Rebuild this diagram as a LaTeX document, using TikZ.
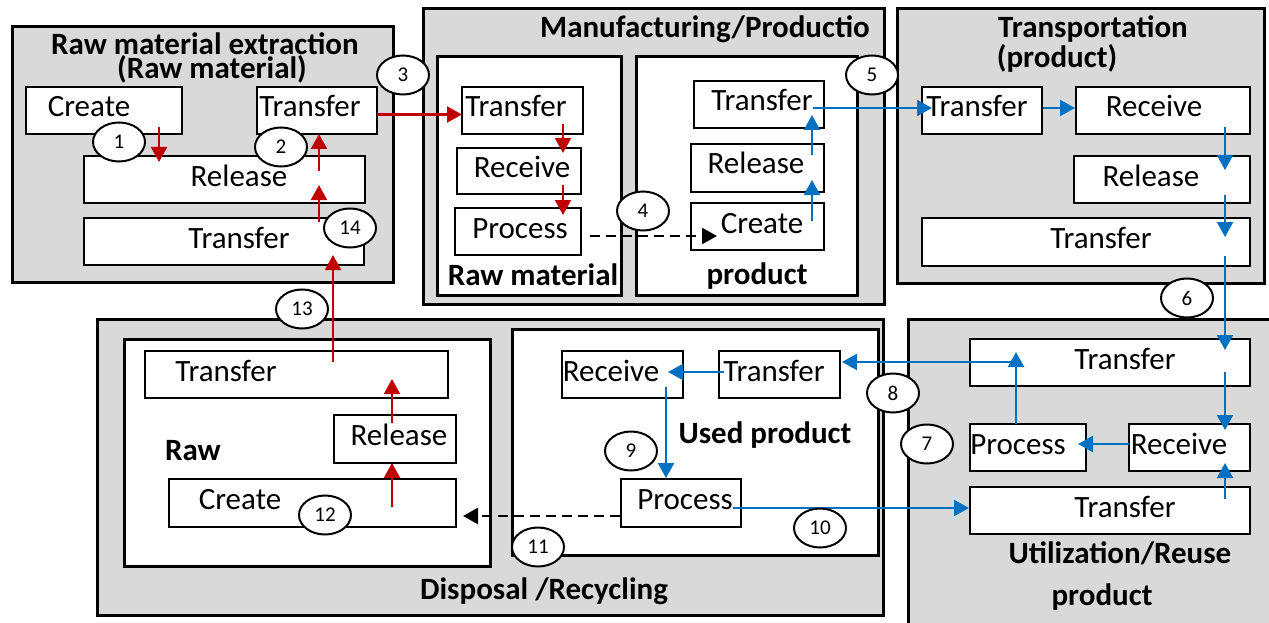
\documentclass[tikz,border=0pt]{standalone}
\usepackage{fontspec}
\setmainfont{Carlito}
\usetikzlibrary{arrows.meta,calc,shapes.geometric}
\definecolor{panelgray}{RGB}{217,217,217}
\definecolor{flowred}{RGB}{192,0,0}
\definecolor{flowblue}{RGB}{0,112,192}
% panel / frame: style, name, x1, y1, x2, y2 (screen pixels, y downwards)
\newcommand\mkpanel[6]{%
  \node[#1, minimum width={#5-#3}, minimum height={#6-#4}] (#2) at ({(#3+#5)/2},{(#4+#6)/2}) {};}
% activity box: name, x1, y1, x2, y2, text x, text
\newcommand\mkbox[7]{%
  \node[sbox, minimum width={#4-#2}, minimum height={#5-#3}] (#1) at ({(#2+#4)/2},{(#3+#5)/2}) {};
  \node[lbl] (#1-t) at (#6,#3+30) {#7};}
\begin{document}
\begin{tikzpicture}[x=1pt,y=-1pt,
  panel/.style={draw, line width=3pt, fill=panelgray, inner sep=0pt, outer sep=0pt},
  frame/.style={draw, line width=3pt, fill=white, inner sep=0pt, outer sep=0pt},
  sbox/.style={draw, line width=2.4pt, fill=white, inner sep=0pt, outer sep=0pt},
  lbl/.style={anchor=base, inner sep=0pt, font=\fontsize{31}{33}\selectfont},
  ttl/.style={anchor=base, inner sep=0pt, font=\fontsize{31}{33}\selectfont\bfseries},
  num/.style={ellipse, draw, line width=2pt, fill=white, minimum width=52pt,
    minimum height=39pt, inner sep=0pt, font=\fontsize{21}{23}\selectfont},
  redarr/.style={draw=flowred, line width=2.2pt, -{Triangle[length=15pt,width=16pt]}},
  bluearr/.style={draw=flowblue, line width=2.2pt, -{Triangle[length=15pt,width=16pt]}},
  dasharr/.style={draw=black, line width=2.4pt, dash pattern=on 10pt off 6pt,
    -{Triangle[length=15pt,width=16pt]}}]
\useasboundingbox (0,0) rectangle (1269,623);
\fill[white] (0,0) rectangle (1269,623);
\clip (0,0) rectangle (1269,623);

% stage panels
\mkpanel{panel}{P1}{12}{27}{393}{282}
\mkpanel{panel}{P2}{423}{9}{884}{304}
\mkpanel{panel}{P3}{897}{9}{1264}{283}
\mkpanel{panel}{P4}{908}{319}{1300}{660}
\mkpanel{panel}{P5}{97}{319}{883}{615}
% inner frames
\mkpanel{frame}{M1}{437}{57}{621}{295}
\mkpanel{frame}{M2}{636}{57}{857}{295}
\mkpanel{frame}{D1}{124}{339}{490}{566}
\mkpanel{frame}{D2}{512}{329}{878}{555}

% stage titles
\node[ttl] (t1a) at (205,55) {Raw material extraction};
\node[ttl] (t1b) at (212,79) {(Raw material)};
\node[ttl] (t2) at (705,38) {Manufacturing/Productio};
\node[ttl] (t2a) at (533,285) {Raw material};
\node[ttl] (t2b) at (757,284) {product};
\node[ttl] (t3a) at (1093,38) {Transportation};
\node[ttl] (t3b) at (1057,68) {(product)};
\node[ttl] (t4a) at (1120,563) {Utilization/Reuse};
\node[ttl] (t4b) at (1102,605) {product};
\node[ttl] (t5) at (544,599) {Disposal /Recycling};
\node[ttl] (t5a) at (193,460) {Raw};
\node[ttl] (t5b) at (765,443) {Used product};

% raw material extraction
\mkbox{aCreate}{26}{87}{182}{134}{89}{Create}
\mkbox{aTransfer}{257}{87}{377}{134}{310}{Transfer}
\mkbox{aRelease}{84}{156}{365}{203}{239}{Release}
\mkbox{aTransferB}{84}{218}{364}{265}{239}{Transfer}
% manufacturing
\mkbox{mTransfer}{462}{87}{583}{134}{516}{Transfer}
\mkbox{mReceive}{457}{148}{581}{194}{522}{Receive}
\mkbox{mProcess}{455}{208}{581}{255}{520}{Process}
\mkbox{pTransfer}{694}{81}{824}{128}{762}{Transfer}
\mkbox{pRelease}{691}{144}{824}{192}{756}{Release}
\mkbox{pCreate}{691}{203}{824}{250}{762}{Create}
% transportation
\mkbox{tTransfer}{922}{87}{1042}{134}{977}{Transfer}
\mkbox{tReceive}{1076}{87}{1250}{134}{1154}{Receive}
\mkbox{tRelease}{1074}{156}{1250}{203}{1151}{Release}
\mkbox{tTransferB}{922}{218}{1250}{266}{1101}{Transfer}
% utilization / reuse
\mkbox{uTransfer}{970}{339}{1250}{386}{1125}{Transfer}
\mkbox{uProcess}{970}{424}{1086}{471}{1018}{Process}
\mkbox{uReceive}{1129}{424}{1250}{471}{1179}{Receive}
\mkbox{uTransferB}{970}{487}{1250}{534}{1125}{Transfer}
% disposal / recycling
\mkbox{dTransfer}{145}{351}{448}{398}{226}{Transfer}
\mkbox{dRelease}{334}{415}{456}{463}{399}{Release}
\mkbox{dCreate}{169}{479}{456}{527}{240}{Create}
\mkbox{rReceive}{562}{351}{683}{398}{611}{Receive}
\mkbox{rTransfer}{719}{351}{840}{398}{774}{Transfer}
\mkbox{rProcess}{621}{479}{741}{527}{685}{Process}

% raw material flows
\draw[redarr] ($(aCreate.south east)+(-23,-7)$) -- ($(aRelease.north west)+(75,6)$);
\draw[redarr] ($(aRelease.north west)+(235,15)$) -- ($(aTransfer.south west)+(62,0)$);
\draw[redarr] ($(aTransferB.north west)+(235,4)$) -- ($(aRelease.south west)+(235,-18)$);
\draw[redarr] ($(dTransfer.north west)+(188,11)$) -- ($(aTransferB.south west)+(249,-10)$);
\draw[redarr] ($(aTransfer.east)+(0,4)$) -- ($(mTransfer.west)+(0,4)$);
\draw[redarr] ($(mTransfer.south west)+(101,-10)$) -- ($(mReceive.north west)+(106,5)$);
\draw[redarr] ($(mReceive.south west)+(106,-9)$) -- ($(mProcess.north west)+(108,7)$);
\draw[redarr] ($(dCreate.north west)+(223,28)$) -- ($(dRelease.south west)+(58,0)$);
\draw[redarr] ($(dRelease.north west)+(58,8)$) -- ($(dTransfer.south west)+(247,-19)$);

% conversion steps
\draw[dasharr] ($(mProcess.east)+(9,4.5)$) -- ($(pCreate.west)+(26,9.5)$);
\draw[dasharr] ($(rProcess.west)+(-1,13)$) -- ($(dCreate.east)+(7,13)$);

% product flows
\draw[bluearr] ($(pCreate.north east)+(-12,18)$) -- ($(pRelease.south east)+(-12,-12)$);
\draw[bluearr] ($(pRelease.north east)+(-12,11)$) -- ($(pTransfer.south east)+(-12,-13)$);
\draw[bluearr] ($(pTransfer.east)+(-11,3.5)$) -- ($(tTransfer.west)+(10,-2.5)$);
\draw[bluearr] ($(tTransfer.east)+(1,-2.5)$) -- ($(tReceive.west)+(-1,-2.5)$);
\draw[bluearr] ($(tReceive.south east)+(-25,-7)$) -- ($(tRelease.north east)+(-25,14)$);
\draw[bluearr] ($(tRelease.south east)+(-25,-8)$) -- ($(tTransferB.north east)+(-25,19)$);
\draw[bluearr] ($(tTransferB.south east)+(-25,-10)$) -- ($(uTransfer.north east)+(-25,11)$);
\draw[bluearr] ($(uTransfer.south east)+(-25,-14)$) -- ($(uReceive.north east)+(-25,6)$);
\draw[bluearr] ($(uReceive.west)+(0,-3.5)$) -- ($(uProcess.east)+(-8,-3.5)$);
\draw[bluearr] ($(uProcess.north west)+(46,0)$) -- ($(uTransfer.north west)+(46,13)$);
\draw[bluearr] ($(uTransfer.north west)+(46,23)$) -- ($(rTransfer.east)+(2,-12.5)$);
\draw[bluearr] ($(uTransferB.north east)+(-25,12)$) -- ($(uReceive.south east)+(-25,-8)$);
\draw[bluearr] ($(rProcess.east)+(-8,5)$) -- ($(uTransferB.west)+(-1,-2.5)$);
\draw[bluearr] ($(rTransfer.west)+(5,-2.5)$) -- ($(rReceive.east)+(-15,-2.5)$);
\draw[bluearr] ($(rReceive.south east)+(-17,-11)$) -- ($(rProcess.north west)+(45,-1)$);

% step numbers
\node[num] (n1) at (119,142) {1};
\node[num] (n2) at (281,147) {2};
\node[num] (n3) at (403,75) {3};
\node[num] (n4) at (643,211) {4};
\node[num] (n5) at (872,75) {5};
\node[num] (n6) at (1187,298) {6};
\node[num] (n7) at (927,444) {7};
\node[num] (n8) at (893,393) {8};
\node[num] (n9) at (631,451) {9};
\node[num] (n10) at (820,528) {10};
\node[num] (n11) at (538,547) {11};
\node[num] (n12) at (325,515) {12};
\node[num] (n13) at (302,309) {13};
\node[num] (n14) at (350,228) {14};
\end{tikzpicture}
\end{document}
